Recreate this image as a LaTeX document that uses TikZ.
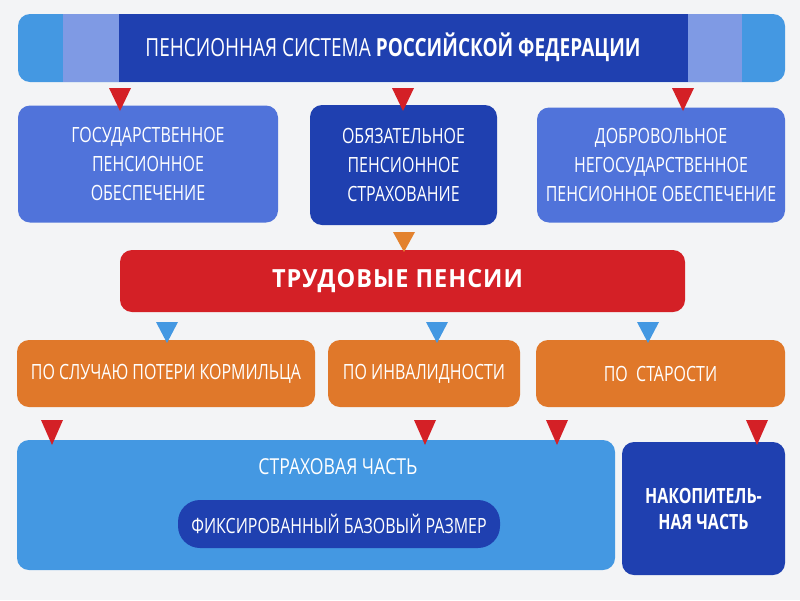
\documentclass[tikz,border=0pt]{standalone}
\usepackage{fontspec}
\setmainfont{Open Sans}
\newfontfamily\cond{Open Sans}[FakeStretch=0.76]
\newfontfamily\condw{Open Sans}[FakeStretch=0.8]
\newfontfamily\wideb{Open Sans}[FakeStretch=0.94,LetterSpace=4]
\usetikzlibrary{calc}
\definecolor{bgc}{HTML}{F3F4F6}
\definecolor{lblue}{HTML}{4498E2}
\definecolor{mblue}{HTML}{5073DA}
\definecolor{dblue}{HTML}{1F40B0}
\definecolor{stripe}{HTML}{7F9AE4}
\definecolor{redc}{HTML}{D42026}
\definecolor{orangec}{HTML}{E0782A}
\definecolor{otri}{HTML}{E3822E}
\tikzset{
  box/.style={rounded corners=12pt, inner sep=0pt, text=white, align=center},
  txt/.style={text=white, align=center, inner sep=0pt},
  midfont/.style={font=\cond\fontsize{21}{29}\selectfont},
  smfont/.style={font=\cond\fontsize{21}{24}\selectfont},
}
\newcommand\tridown[4]{\fill[#1] ($(#2)+(-#4,-#3)$) -- ($(#2)+(#4,-#3)$) -- (#2) -- cycle;}
\begin{document}
\begin{tikzpicture}[x=1pt,y=-1pt]
\useasboundingbox (0,0) rectangle (800,600);
\fill[bgc] (0,0) rectangle (800,600);

% banner
\node[box, fill=lblue, minimum width=767pt, minimum height=68pt] (top) at (401.5,48) {};
\fill[stripe] (63,14) rectangle (119,82);
\fill[dblue] (119,14) rectangle (688,82);
\fill[stripe] (688,14) rectangle (742,82);
\node[txt, font=\cond\fontsize{25}{28}\selectfont] (toptext) at (393,47) {ПЕНСИОННАЯ СИСТЕМА \textbf{РОССИЙСКОЙ ФЕДЕРАЦИИ}};

% row 2
\node[box, fill=mblue, minimum width=260pt, minimum height=117pt, midfont] (gos) at (148,164) {ГОСУДАРСТВЕННОЕ\\ПЕНСИОННОЕ\\ОБЕСПЕЧЕНИЕ};
\node[box, fill=dblue, minimum width=187pt, minimum height=120pt, midfont] (obz) at (403.5,165) {ОБЯЗАТЕЛЬНОЕ\\ПЕНСИОННОЕ\\СТРАХОВАНИЕ};
\node[box, fill=mblue, minimum width=248pt, minimum height=115pt, midfont] (dob) at (661,165) {ДОБРОВОЛЬНОЕ\\НЕГОСУДАРСТВЕННОЕ\\ПЕНСИОННОЕ ОБЕСПЕЧЕНИЕ};

% red bar
\node[box, fill=redc, minimum width=565pt, minimum height=62pt] (trud) at (402.5,281) {};
\node[txt, font=\wideb\bfseries\fontsize{25}{28}\selectfont] (trudtext) at (397.5,281) {ТРУДОВЫЕ ПЕНСИИ};

% row 4
\node[box, fill=orangec, minimum width=298pt, minimum height=67pt, smfont] (korm) at (166,373.5) {ПО СЛУЧАЮ ПОТЕРИ КОРМИЛЬЦА};
\node[box, fill=orangec, minimum width=192pt, minimum height=67pt, smfont] (inv) at (424,373.5) {ПО\ ИНВАЛИДНОСТИ};
\node[box, fill=orangec, minimum width=249pt, minimum height=67pt, smfont] (star) at (660.5,373.5) {ПО\ \ СТАРОСТИ};

% bottom
\node[box, fill=lblue, minimum width=598pt, minimum height=130pt] (strah) at (316,505) {};
\node[txt, font=\condw\fontsize{22}{24}\selectfont] (strahtext) at (338,467) {СТРАХОВАЯ ЧАСТЬ};
\node[box, fill=dblue, rounded corners=22pt, minimum width=322pt, minimum height=48pt, smfont] (fix) at (339,524) {ФИКСИРОВАННЫЙ БАЗОВЫЙ РАЗМЕР};
\node[box, fill=dblue, minimum width=163pt, minimum height=133pt, font=\cond\bfseries\fontsize{21}{26}\selectfont] (nak) at (703.5,508.5) {НАКОПИТЕЛЬ-\\НАЯ ЧАСТЬ};

% connector triangles
\coordinate (a1) at (120,111);
\coordinate (a2) at (403,111);
\coordinate (a3) at (683,111);
\tridown{redc}{a1}{23}{11}
\tridown{redc}{a2}{23}{11}
\tridown{redc}{a3}{23}{11}
\coordinate (o1) at (404,252);
\tridown{otri}{o1}{20}{11}
\coordinate (b1) at (167,343);
\coordinate (b2) at (437,343);
\coordinate (b3) at (648,343);
\tridown{lblue}{b1}{21}{11}
\tridown{lblue}{b2}{21}{11}
\tridown{lblue}{b3}{21}{11}
\coordinate (c1) at (52,445);
\coordinate (c2) at (425,445);
\coordinate (c3) at (557,445);
\coordinate (c4) at (757,445);
\tridown{redc}{c1}{25}{11}
\tridown{redc}{c2}{25}{11}
\tridown{redc}{c3}{25}{11}
\tridown{redc}{c4}{25}{11}
\end{tikzpicture}
\end{document}
